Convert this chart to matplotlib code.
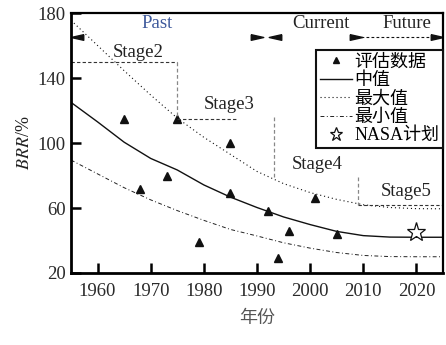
import matplotlib
matplotlib.use("Agg")
import matplotlib.pyplot as plt
from matplotlib.path import Path

plt.rcParams["font.family"] = ["Liberation Serif", "Noto Sans CJK SC"]
plt.rcParams["mathtext.fontset"] = "stix"

# Assessed BRR values by year
obs_years = [1965, 1968, 1973, 1975, 1979, 1985, 1985, 1992, 1994, 1996, 2001, 2005]
obs_brr = [115, 72, 80, 115, 39, 100, 69, 58, 29, 46, 66, 44]

# NASA plan target
nasa_years = [2020]
nasa_brr = [45]

# Trend curves (median / maximum / minimum)
curve_years = [1955, 1960, 1965, 1970, 1975, 1980, 1985, 1990, 1995, 2000, 2005, 2010, 2015, 2020, 2025]
median_brr = [125, 113, 100.5, 90.5, 83.4, 74.2, 66.7, 60.3, 54.5, 49.8, 45.6, 43, 42.1, 42, 42]
max_brr = [175.5, 160, 144.5, 129.5, 115.3, 103.5, 93, 82.5, 75, 69.5, 65.3, 62, 60.3, 59.6, 59.5]
min_brr = [89.5, 81, 72.5, 65, 58.4, 52.4, 46.8, 42.8, 38.6, 35.3, 32.6, 30.8, 30.1, 30, 30]

# Stage brackets: (x0, x1, y) horizontal pieces and (x, y0, y1) vertical pieces
stage_names = ["Stage2", "Stage3", "Stage4", "Stage5"]
stage_label_x = [1967.7, 1984.8, 2001.3, 2018.0]
stage_label_y = [156, 123.4, 86.5, 70]
stage_hlines = [(1955, 1975, 150), (1975, 1986.5, 115), (2009, 2025, 62)]
stage_vlines = [(1975, 150, 116), (1993.2, 116, 78), (2009, 79, 62)]

# Period headings and arrowheads
period_names = ["Past", "Current", "Future"]
period_x = [1971.2, 2002.1, 2018.2]
period_colors = ["#3f5a9c", "#222222", "#222222"]
arrow_y = 165.4
arrow_left_x = [1956.2, 1993.4]
arrow_right_x = [1990.0, 2008.6, 2023.9]
future_span = [2009.5, 2023.5]

xticks = [1960, 1970, 1980, 1990, 2000, 2010, 2020]
yticks = [20, 60, 100, 140, 180]

fig = plt.figure(figsize=(4.46, 3.45), dpi=100)
ax = fig.add_axes([0.1592, 0.2087, 0.834, 0.7536])

ink = "#111111"
fs = 13.5

h_obs, = ax.plot(obs_years, obs_brr, linestyle="none", marker="^", markersize=5.5,
                 color=ink, label="评估数据")
h_med, = ax.plot(curve_years, median_brr, color=ink, lw=1.0, label="中值")
h_max, = ax.plot(curve_years, max_brr, color=ink, lw=0.8, linestyle=(0, (1, 2.6)),
                 label="最大值")
h_min, = ax.plot(curve_years, min_brr, color="#222222", lw=0.7,
                 linestyle=(0, (4, 2.5, 1, 2.5)), label="最小值")
h_nasa, = ax.plot(nasa_years, nasa_brr, linestyle="none", marker="*", markersize=14,
                  markerfacecolor="white", markeredgecolor=ink, markeredgewidth=0.9,
                  label="NASA计划")

for x0, x1, y in stage_hlines:
    ax.plot([x0, x1], [y, y], color="#333333", lw=0.8, linestyle=(0, (3, 2)))
for x, y0, y1 in stage_vlines:
    ax.plot([x, x], [y0, y1], color="#888888", lw=0.9, linestyle=(0, (3, 2)))
for name, x, y in zip(stage_names, stage_label_x, stage_label_y):
    ax.text(x, y, name, ha="center", va="center", fontsize=fs, color="#222222")

for name, x, c in zip(period_names, period_x, period_colors):
    ax.text(x, 173.5, name, ha="center", va="center", fontsize=fs, color=c)

head_left = Path([(1, 0.45), (-1, 0), (1, -0.45), (1, 0.45)])
head_right = Path([(-1, 0.45), (1, 0), (-1, -0.45), (-1, 0.45)])
ax.plot(arrow_left_x, [arrow_y] * len(arrow_left_x), linestyle="none",
        marker=head_left, markersize=9, color=ink)
ax.plot(arrow_right_x, [arrow_y] * len(arrow_right_x), linestyle="none",
        marker=head_right, markersize=9, color=ink)
ax.plot(future_span, [arrow_y, arrow_y], color=ink, lw=0.8, linestyle=(0, (2.5, 2)))

ax.set_xlim(1955, 2025)
ax.set_ylim(20, 180)
ax.set_xticks(xticks)
ax.set_yticks(yticks)
ax.tick_params(direction="in", length=7, width=1.8, labelsize=fs,
               labelcolor="#2a2a2a", top=False, right=False)
ax.tick_params(axis="x", pad=7.5)
ax.tick_params(axis="y", pad=4)
for side in ["left", "bottom"]:
    ax.spines[side].set_linewidth(2.0)
for side in ["top", "right"]:
    ax.spines[side].set_linewidth(1.6)

ax.set_xlabel("年份", fontsize=13, color="#555555", family=["Noto Sans CJK SC"],
              labelpad=6)
ax.set_ylabel("$BRR$/%", fontsize=13, color="#222222", labelpad=3)

leg = ax.legend(handles=[h_obs, h_med, h_max, h_min, h_nasa],
                loc="upper right", bbox_to_anchor=(1.0, 0.858), borderaxespad=0,
                prop={"family": ["Liberation Serif", "Noto Sans CJK SC"], "size": 13},
                handlelength=1.75, handletextpad=0.15, borderpad=0.2,
                labelspacing=0.08, fancybox=False, framealpha=1, edgecolor=ink,
                markerscale=0.7)
leg.get_frame().set_linewidth(1.5)

fig.savefig("out.png", dpi=100)
